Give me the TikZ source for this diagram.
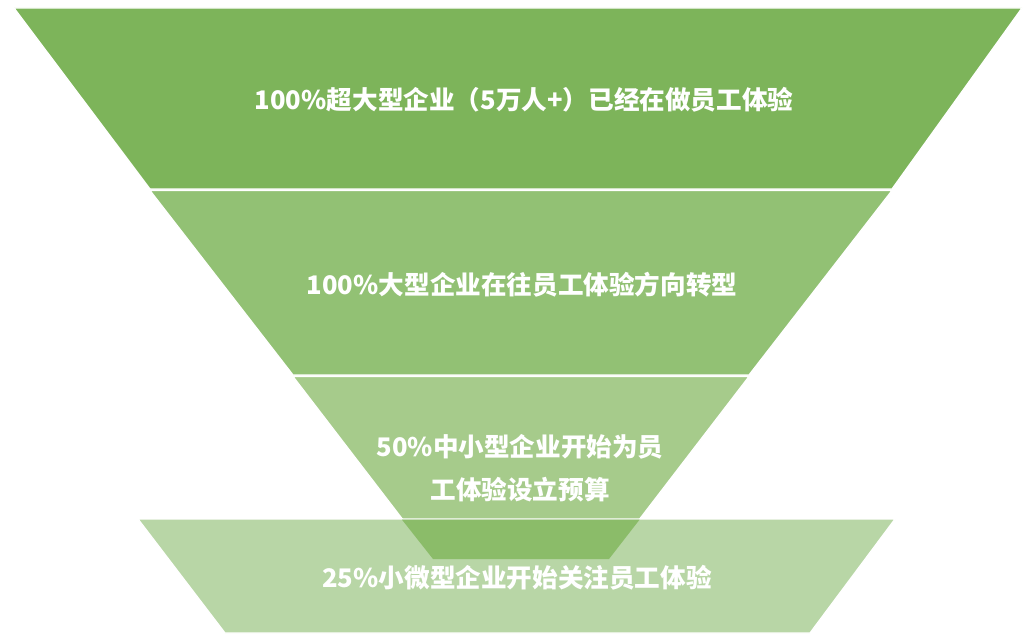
\documentclass[tikz,border=0pt]{standalone}
\usepackage{fontspec}
\newfontfamily\cjk{Noto Sans CJK SC}
\definecolor{cA}{HTML}{7DB45A}
\definecolor{cB}{HTML}{92C174}
\definecolor{cC}{HTML}{A6CB8B}
\definecolor{cD}{HTML}{B8D6A6}
\definecolor{cE}{HTML}{8BBC69}
\begin{document}
\begin{tikzpicture}[x=1pt,y=-1pt,
  seg/.style={draw=white,line width=1.3pt,line join=miter},
  lab/.style={text=white,font=\cjk\bfseries\fontsize{25.6}{43}\selectfont,align=center,inner sep=0pt}]
\useasboundingbox (0,0) rectangle (1024,642);
\filldraw[seg,fill=cA] (14,8) -- (1022,8) -- (892,189) -- (150,189) -- cycle;
\filldraw[seg,fill=cB] (150,190.5) -- (892,190.5) -- (749,375) -- (293,375) -- cycle;
\filldraw[seg,fill=cC] (293,376.5) -- (749,376.5) -- (609,559) -- (433,559) -- cycle;
\filldraw[seg,fill=cD] (138,519) -- (895,519) -- (810,633) -- (225,633) -- cycle;
\fill[cE] (402,519.7) -- (639.5,519.7) -- (609,559) -- (433,559) -- cycle;
\node[lab] (t1) at (524,100) {100\%超大型企业（5万人+）已经在做员工体验};
\node[lab] (t2) at (522,285) {100\%大型企业在往员工体验方向转型};
\node[lab] (t3) at (520,468) {50\%中小型企业开始为员\\工体验设立预算};
\node[lab] (t4) at (517,578) {25\%小微型企业开始关注员工体验};
\end{tikzpicture}
\end{document}
